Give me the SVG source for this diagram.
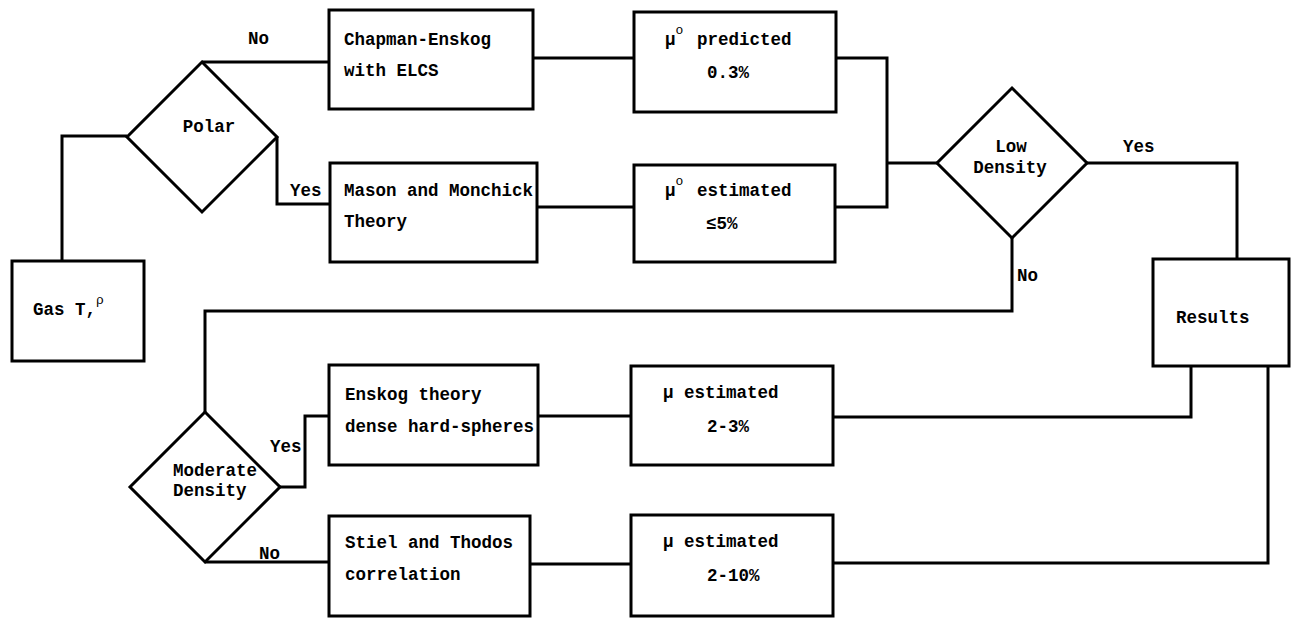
<svg xmlns="http://www.w3.org/2000/svg" width="1295" height="619" viewBox="0 0 1295 619">
<style>
.box{fill:#fff;stroke:#000;stroke-width:3;stroke-linejoin:miter}
.dia{fill:#fff;stroke:#000;stroke-width:3;stroke-linejoin:miter}
.conn{fill:none;stroke:#000;stroke-width:3;stroke-linejoin:miter}
text{font-family:"Liberation Mono","DejaVu Sans Mono",monospace;font-size:17.5px;font-weight:bold;fill:#000}
.sup{font-size:13px;font-weight:normal}
.mid{text-anchor:middle}
</style>
<rect width="1295" height="619" fill="#fff"/>
<g id="connectors">
<polyline class="conn" points="62,261 62,136 127,136"/>
<polyline class="conn" points="202,62 329,62"/>
<polyline class="conn" points="277,137 277,204 330,204"/>
<polyline class="conn" points="533,58 634,58"/>
<polyline class="conn" points="537,207 634,207"/>
<polyline class="conn" points="836,58 887,58 887,207 835,207"/>
<polyline class="conn" points="887,163 938,163"/>
<polyline class="conn" points="1087,163 1237,163 1237,259"/>
<polyline class="conn" points="1012,238 1012,311 205,311 205,412"/>
<polyline class="conn" points="280,487 305,487 305,416 329,416"/>
<polyline class="conn" points="205,562 329,562"/>
<polyline class="conn" points="538,416 631,416"/>
<polyline class="conn" points="530,564 631,564"/>
<polyline class="conn" points="833,417 1191,417 1191,366"/>
<polyline class="conn" points="833,563 1268,563 1268,366"/>
<text x="248" y="44">No</text>
<text x="290" y="196">Yes</text>
<text x="1123" y="152">Yes</text>
<text x="1017" y="281">No</text>
<text x="270" y="452">Yes</text>
<text x="259" y="559">No</text>
</g>
<g id="gas">
<rect class="box" x="12" y="261" width="132" height="100"/>
<text x="33" y="315">Gas T,</text>
<text x="96" y="304" class="sup">ρ</text>
</g>
<g id="polar">
<polygon class="dia" points="202,62 277,137 202,212 127,137"/>
<text x="209" y="132" class="mid">Polar</text>
</g>
<g id="chapman">
<rect class="box" x="329" y="10" width="204" height="99"/>
<text x="344" y="45">Chapman-Enskog</text>
<text x="344" y="76">with ELCS</text>
</g>
<g id="mason">
<rect class="box" x="330" y="163" width="207" height="99"/>
<text x="344" y="196">Mason and Monchick</text>
<text x="344" y="227">Theory</text>
</g>
<g id="mu-predicted">
<rect class="box" x="634" y="12" width="202" height="100"/>
<text x="665" y="45">μ<tspan class="sup" dy="-11">o</tspan><tspan dy="11" x="697">predicted</tspan></text>
<text x="707" y="78">0.3%</text>
</g>
<g id="mu-estimated-low">
<rect class="box" x="634" y="165" width="201" height="97"/>
<text x="665" y="196">μ<tspan class="sup" dy="-11">o</tspan><tspan dy="11" x="697">estimated</tspan></text>
<text x="706" y="229">≤5%</text>
</g>
<g id="low-density">
<polygon class="dia" points="1012,88 1087,163 1012,238 937,163"/>
<text x="1011" y="152" class="mid">Low</text>
<text x="1010" y="173" class="mid">Density</text>
</g>
<g id="results">
<rect class="box" x="1153" y="259" width="136" height="107"/>
<text x="1176" y="323">Results</text>
</g>
<g id="moderate-density">
<polygon class="dia" points="205,412 280,487 205,562 130,487"/>
<text x="173" y="476">Moderate</text>
<text x="173" y="496">Density</text>
</g>
<g id="enskog">
<rect class="box" x="329" y="365" width="209" height="100"/>
<text x="345" y="400">Enskog theory</text>
<text x="345" y="432">dense hard-spheres</text>
</g>
<g id="stiel">
<rect class="box" x="329" y="516" width="201" height="100"/>
<text x="345" y="548">Stiel and Thodos</text>
<text x="345" y="580">correlation</text>
</g>
<g id="mu-estimated-2-3">
<rect class="box" x="631" y="366" width="202" height="99"/>
<text x="663" y="398">μ estimated</text>
<text x="707" y="432">2-3%</text>
</g>
<g id="mu-estimated-2-10">
<rect class="box" x="631" y="515" width="202" height="101"/>
<text x="663" y="547">μ estimated</text>
<text x="707" y="581">2-10%</text>
</g>
</svg>
